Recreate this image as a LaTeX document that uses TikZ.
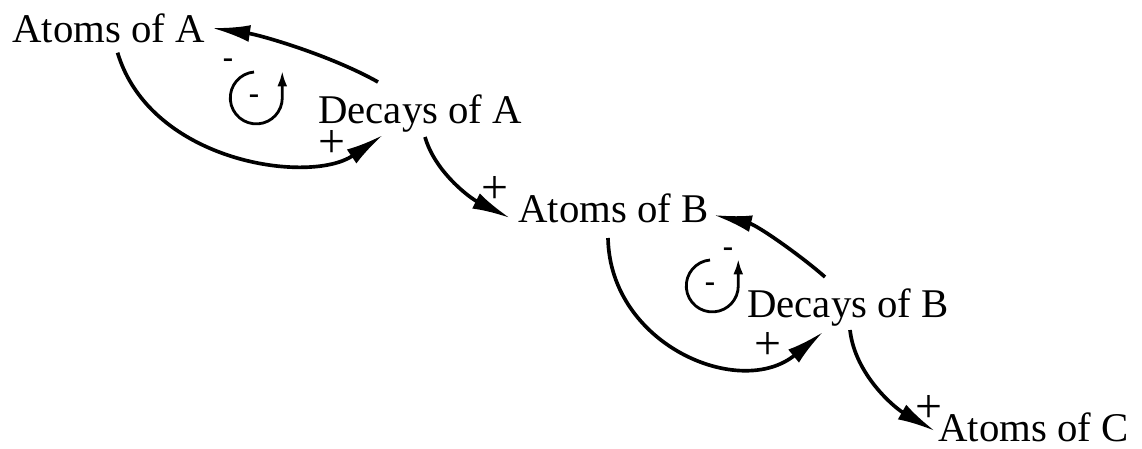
\documentclass[tikz,border=0pt]{standalone}
\usepackage{fontspec}
\setmainfont{Liberation Serif}
\usetikzlibrary{arrows.meta}

\begin{document}
\begin{tikzpicture}[x=0.025cm, y=-0.025cm,
  word/.style={inner sep=0pt, anchor=base west, font=\fontsize{29}{35}\selectfont},
  sign/.style={inner sep=0pt, anchor=base, text height=0.5em, text depth=0pt, font=\fontsize{34}{38}\selectfont},
  minus/.style={inner sep=0pt, font=\fontsize{22}{26}\bfseries},
  link/.style={line width=2.6pt, -{Latex[length=27pt, width=12pt]}},
  cyclearrow/.style={line width=2pt, -{Latex[length=11pt, width=7pt]}}]
\useasboundingbox (0,0) rectangle (1142,448);

\node[word] (atomsA) at (12,42){Atoms of A};
\node[word] (decaysA) at (318,123){Decays of A};
\node[word] (atomsB) at (518,222){Atoms of B};
\node[word] (decaysB) at (747,317){Decays of B};
\node[word] (atomsC) at (938,441){Atoms of C};

\draw[link]([shift={(9,10)}]atomsA.south) .. controls +(33,110) and +(-73,50) .. ([shift={(65,12)}]decaysA.base west);
\draw[link]([shift={(60,-41)}]decaysA.base west) .. controls +(-48,-27) and +(48,7) .. ([shift={(7,-14)}]atomsA.base east);
\draw[link]([shift={(107,14)}]decaysA.base west) .. controls +(10,35) and +(-40,-20) .. ([shift={(-8,-4)}]atomsB.base west);
\draw[link]([shift={(90,16)}]atomsB.base west) .. controls +(2,107) and +(-83,68) .. ([shift={(76,15)}]decaysB.base west);
\draw[link]([shift={(78,-40)}]decaysB.base west) .. controls +(-25,-22) and +(43,10) .. ([shift={(5,-7)}]atomsB.base east);
\draw[link]([shift={(103,13)}]decaysB.base west) .. controls +(5,45) and +(-40,-23) .. ([shift={(-3,-10)}]atomsC.base west);

\node[sign] (pA1) at (332,157){+};
\node[sign] (pB0) at (495,203){+};
\node[sign] (pB1) at (768,359){+};
\node[sign] (pC0) at (929,422){+};
\node[minus] (mA) at (228,63){-};
\node[minus] (mB) at (728,252){-};

\node[minus] (loopA) at (254,99){-};
\draw[cyclearrow]([shift={(0,-27)}]loopA.center) arc[start angle=-95, end angle=-360, radius=26] -- ++(0,-27);
\node[minus] (loopB) at (710,287){-};
\draw[cyclearrow]([shift={(0,-27)}]loopB.center) arc[start angle=-95, end angle=-360, radius=26] -- ++(0,-27);
\end{tikzpicture}
\end{document}
